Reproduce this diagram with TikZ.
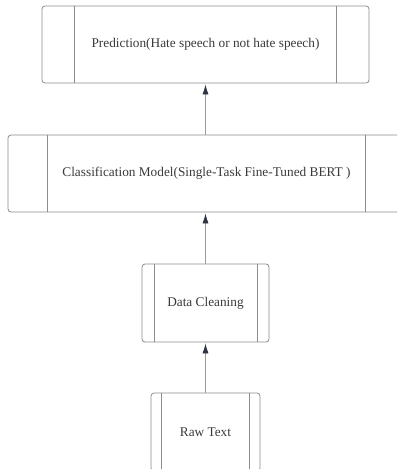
\documentclass[tikz,border=0pt]{standalone}
\usepackage{fontspec}
\setmainfont{Liberation Serif}
\usetikzlibrary{arrows.meta,calc}
\definecolor{edgegray}{HTML}{8C8C8C}
\definecolor{linegray}{HTML}{9A9A9A}
\definecolor{textgray}{HTML}{3A3A3A}
\definecolor{headgray}{HTML}{2E3440}
\tikzset{
  procbox/.style={draw=edgegray, line width=0.8pt, rounded corners=3pt, fill=white,
    inner sep=0pt, font=\fontsize{13.3}{15}\selectfont, text=textgray},
  sideline/.style={draw=edgegray, line width=0.8pt},
  flow/.style={draw=linegray, line width=0.8pt, -{Latex[length=10pt,width=6pt,color=headgray]}, shorten >=1pt}
}
\begin{document}
\begin{tikzpicture}[x=1pt,y=-1pt]
\useasboundingbox (0,0) rectangle (397,469);
\begin{scope}
\clip (0,0) rectangle (397,469);
\node[procbox, minimum width=327pt, minimum height=77pt] (pred) at (205.5,44.5) {Prediction(Hate speech or not hate speech)};
\node[procbox, minimum width=397pt, minimum height=77pt] (cls) at (206.5,173.5) {Classification Model(Single-Task Fine-Tuned BERT )};
\node[procbox, minimum width=127pt, minimum height=78pt] (clean) at (205.5,303) {Data Cleaning};
\node[procbox, minimum width=109pt, minimum height=78pt] (raw) at (205.5,432) {Raw Text};
\draw[sideline] ($(pred.north west)+(33,0)$) -- ($(pred.south west)+(33,0)$);
\draw[sideline] ($(pred.north east)+(-33,0)$) -- ($(pred.south east)+(-33,0)$);
\draw[sideline] ($(cls.north west)+(40,0)$) -- ($(cls.south west)+(40,0)$);
\draw[sideline] ($(cls.north east)+(-40,0)$) -- ($(cls.south east)+(-40,0)$);
\draw[sideline] ($(clean.north west)+(13,0)$) -- ($(clean.south west)+(13,0)$);
\draw[sideline] ($(clean.north east)+(-12,0)$) -- ($(clean.south east)+(-12,0)$);
\draw[sideline] ($(raw.north west)+(11,0)$) -- ($(raw.south west)+(11,0)$);
\draw[sideline] ($(raw.north east)+(-11,0)$) -- ($(raw.south east)+(-11,0)$);
\draw[flow] (raw.north) -- (clean.south);
\draw[flow] (clean.north) -- (cls.south -| clean.north);
\draw[flow] (cls.north -| clean.north) -- (pred.south -| clean.north);
\end{scope}
\end{tikzpicture}
\end{document}
